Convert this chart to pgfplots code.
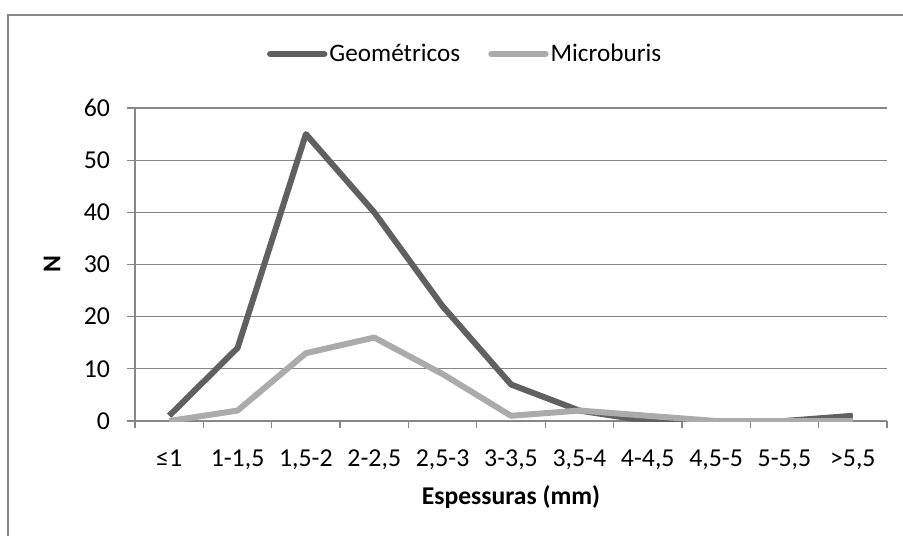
\documentclass[border=0pt]{standalone}
\usepackage{fontspec}
\setmainfont{Carlito}
\usepackage{pgfplots}
\pgfplotsset{compat=1.18}
\definecolor{geo}{HTML}{606060}
\definecolor{micro}{HTML}{ABABAB}
\definecolor{gridgray}{HTML}{878787}

\begin{document}
\begin{tikzpicture}
\useasboundingbox (0,0) rectangle (451.5pt,268pt);
\begin{axis}[
  at={(67.5pt,57.5pt)}, anchor=south west,
  scale only axis, width=376pt, height=156.5pt,
  xmin=0.5, xmax=11.5, ymin=0, ymax=60,
  ytick={0,10,...,60},
  xtick={1,...,11},
  xticklabels={{≤1},{1-1,5},{1,5-2},{2-2,5},{2,5-3},{3-3,5},{3,5-4},{4-4,5},{4,5-5},{5-5,5},{>5,5}},
  minor xtick={0.5,1.5,...,11.5},
  axis lines*=left,
  axis line style={gridgray,line width=0.6pt},
  ymajorgrids,
  major grid style={gridgray,line width=0.6pt},
  tick align=outside,
  major tick length=4pt, minor tick length=3.5pt,
  major x tick style={draw=none},
  minor x tick style={gridgray,line width=0.6pt},
  major y tick style={gridgray,line width=0.6pt},
  /pgf/number format/assume math mode=true,
  ticklabel style={font=\fontsize{12.9}{14}\selectfont},
  xticklabel style={yshift=-7pt},
  yticklabel style={xshift=-5pt},
  every axis x label/.style={at={(axis description cs:0.5,0)}, yshift=-38pt, anchor=center},
  every axis y label/.style={at={(axis description cs:0,0.5)}, xshift=-41.5pt, anchor=center, rotate=90},
  xlabel={\fontsize{12.8}{14}\selectfont\bfseries Espessuras (mm)},
  ylabel={\fontsize{12.8}{14}\selectfont\bfseries N},
  legend columns=2,
  legend style={at={(0.439,1.1725)}, anchor=center, draw=none, fill=none,
    font=\fontsize{12.6}{14}\selectfont,
    /tikz/every even column/.append style={column sep=13pt},
    nodes={inner xsep=1pt}},
  legend image code/.code={\draw[#1,line width=3.2pt,line cap=round] (0pt,0pt) -- (27pt,0pt);},
  every axis plot/.append style={line width=3pt, line join=round},
]
\addplot[geo] coordinates {(1,1) (2,14) (3,55) (4,40) (5,22) (6,7) (7,2) (8,0) (9,0) (10,0) (11,1)};
\addplot[micro] coordinates {(1,0) (2,2) (3,13) (4,16) (5,9) (6,1) (7,2) (8,1) (9,0) (10,0) (11,0)};
\legend{Geométricos,Microburis}
\end{axis}
\draw[gridgray,line width=1pt] (4pt,0pt) -- (4pt,260.5pt) -- (451.5pt,260.5pt);
\end{tikzpicture}
\end{document}
